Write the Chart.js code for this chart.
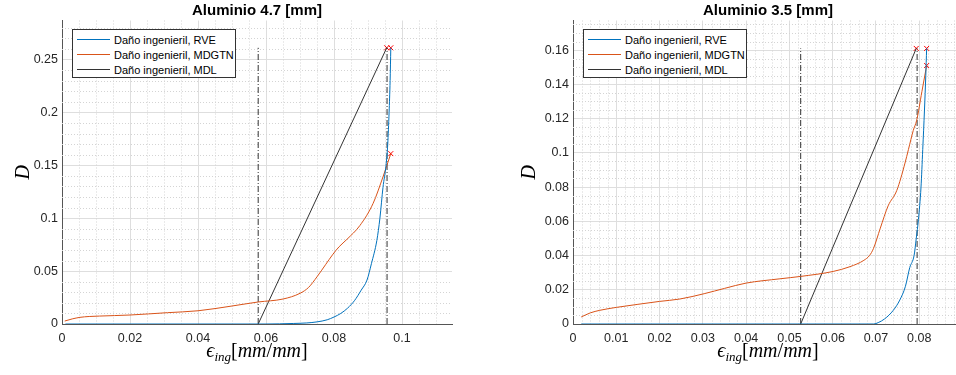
<!DOCTYPE html>
<html>
<head>
<meta charset="utf-8">
<script src="https://cdn.jsdelivr.net/npm/chart.js@4.4.1/dist/chart.umd.min.js"></script>
<style>
  html, body { margin: 0; padding: 0; background: #fff; overflow: hidden; }
  body { width: 956px; height: 375px; position: relative; font-family: "Liberation Sans", Arial, sans-serif; }
  .panel { position: absolute; top: 0; height: 375px; }
  .leyenda {
    position: absolute; top: 29px; width: 162px; height: 45px;
    border: 1px solid #333; background: #fff; padding-top: 2px; box-sizing: content-box;
    font-size: 11px; color: #000;
  }
  .leyenda div { height: 15px; display: flex; align-items: center; white-space: nowrap; }
  .leyenda span { display: inline-block; width: 33px; height: 1px; margin: 0 4px 0 4px; }
  .xlabel {
    position: absolute; top: 339px; width: 200px; text-align: center;
    font-family: "Liberation Serif", "DejaVu Serif", serif; font-size: 20px; line-height: 22px; color: #000;
  }
  .xlabel i { font-style: italic; }
  .xlabel sub { font-size: 13px; vertical-align: -4px; line-height: 0; }
</style>
</head>
<body>

<div class="panel" style="left:0;width:478px">
  <canvas id="c47" width="478" height="375"></canvas>
  <div class="leyenda" style="left:72px">
    <div><span style="background:#0072BD"></span>Daño ingenieril, RVE</div>
    <div><span style="background:#D95319"></span>Daño ingenieril, MDGTN</div>
    <div><span style="background:#333"></span>Daño ingenieril, MDL</div>
  </div>
  <div class="xlabel" style="left:157px"><i>ϵ</i><sub><i>ing</i></sub>[<i>mm</i>/<i>mm</i>]</div>
</div>

<div class="panel" style="left:478px;width:490px">
  <canvas id="c35" width="490" height="375"></canvas>
  <div class="leyenda" style="left:105px">
    <div><span style="background:#0072BD"></span>Daño ingenieril, RVE</div>
    <div><span style="background:#D95319"></span>Daño ingenieril, MDGTN</div>
    <div><span style="background:#333"></span>Daño ingenieril, MDL</div>
  </div>
  <div class="xlabel" style="left:190px"><i>ϵ</i><sub><i>ing</i></sub>[<i>mm</i>/<i>mm</i>]</div>
</div>

<script>
// ---------- Aluminio 4.7 [mm] ----------
const ticksX47 = [0, 0.02, 0.04, 0.06, 0.08, 0.1];
const ticksY47 = [0, 0.05, 0.1, 0.15, 0.2, 0.25];

const rveX47 = [0.001, 0.02, 0.04, 0.06, 0.068, 0.072, 0.075, 0.078, 0.080, 0.082, 0.084, 0.086, 0.088, 0.0897, 0.091, 0.0926, 0.0935, 0.0944, 0.0953, 0.0958, 0.0962, 0.0965, 0.0967];
const rveY47 = [0, 0, 0, 0, 0.0005, 0.001, 0.002, 0.004, 0.0066, 0.010, 0.015, 0.022, 0.032, 0.0415, 0.057, 0.079, 0.100, 0.129, 0.150, 0.170, 0.200, 0.230, 0.261];

const gtnX47 = [0.0008, 0.003, 0.0053, 0.008, 0.011, 0.02, 0.031, 0.04, 0.05, 0.0577, 0.065, 0.07, 0.0725, 0.075, 0.0775, 0.0797, 0.0815, 0.0838, 0.0876, 0.0915, 0.0944, 0.0967];
const gtnY47 = [0.0028, 0.0048, 0.0063, 0.0071, 0.0075, 0.0085, 0.0107, 0.0125, 0.017, 0.0208, 0.0236, 0.029, 0.0345, 0.0446, 0.056, 0.066, 0.073, 0.080, 0.093, 0.114, 0.139, 0.161];

const mdlX47 = [0.0577, 0.0955];
const mdlY47 = [0, 0.261];

const corteX47 = [0.0577, 0.0956];   // líneas verticales punto-raya
const corteTop47 = 0.261;

const finX47 = [0.0955, 0.0967, 0.0967];
const finY47 = [0.261, 0.261, 0.161];

// ---------- Aluminio 3.5 [mm] ----------
const ticksX35 = [0, 0.01, 0.02, 0.03, 0.04, 0.05, 0.06, 0.07, 0.08];
const ticksY35 = [0, 0.02, 0.04, 0.06, 0.08, 0.1, 0.12, 0.14, 0.16];

const rveX35 = [0.0019, 0.02, 0.04, 0.06, 0.0695, 0.0705, 0.072, 0.074, 0.0755, 0.0768, 0.0778, 0.0788, 0.0793, 0.0798, 0.0804, 0.0808, 0.0812, 0.0815, 0.0817];
const rveY35 = [0, 0, 0, 0, 0, 0.0008, 0.003, 0.008, 0.014, 0.022, 0.033, 0.040, 0.050, 0.061, 0.080, 0.102, 0.125, 0.145, 0.161];

const gtnX35 = [0.0019, 0.004, 0.0062, 0.01, 0.015, 0.02, 0.0247, 0.0303, 0.035, 0.040, 0.0478, 0.0526, 0.0601, 0.064, 0.0672, 0.0685, 0.0694, 0.0710, 0.0728, 0.0748, 0.0767, 0.0775, 0.0786, 0.0794, 0.0806, 0.0817];
const gtnY35 = [0.0041, 0.0065, 0.008, 0.0097, 0.0115, 0.0132, 0.0146, 0.0177, 0.0208, 0.0239, 0.0264, 0.0278, 0.0307, 0.0335, 0.0372, 0.040, 0.044, 0.056, 0.069, 0.078, 0.094, 0.102, 0.113, 0.119, 0.1357, 0.151];

const mdlX35 = [0.0526, 0.0793];
const mdlY35 = [0, 0.161];

const corteX35 = [0.0526, 0.0795];
const corteTop35 = 0.161;

const finX35 = [0.0793, 0.0817, 0.0817];
const finY35 = [0.161, 0.161, 0.151];

const AZUL = "#0072BD", NARANJA = "#D95319", NEGRO = "#333333";
const FUENTE = "'Liberation Sans', Arial, sans-serif";

function pares(xs, ys) {
  return xs.map((x, i) => ({ x, y: ys[i] }));
}
function fmt(v) {
  return String(+v.toFixed(4));
}

// grilla menor punteada (estilo MATLAB)
const grillaMenor = {
  id: "grillaMenor",
  beforeDatasetsDraw(chart, args, o) {
    const { ctx, chartArea: a, scales: { x, y } } = chart;
    ctx.save();
    ctx.strokeStyle = "#d4d4d4";
    ctx.lineWidth = 1;
    ctx.setLineDash([1, 2]);
    for (let i = 1; i * o.dx <= x.max; i++) {
      if (i % o.cadaX === 0) continue;
      const px = Math.round(x.getPixelForValue(i * o.dx)) + 0.5;
      ctx.beginPath(); ctx.moveTo(px, a.top); ctx.lineTo(px, a.bottom); ctx.stroke();
    }
    for (let i = 1; i * o.dy <= y.max; i++) {
      if (i % o.cadaY === 0) continue;
      const py = Math.round(y.getPixelForValue(i * o.dy)) + 0.5;
      ctx.beginPath(); ctx.moveTo(a.left, py); ctx.lineTo(a.right, py); ctx.stroke();
    }
    ctx.restore();
  }
};

function grafico(id, d) {
  const linea = (data, color, extra) => Object.assign({
    data, borderColor: color, backgroundColor: color, borderWidth: 1,
    pointRadius: 0, fill: false, tension: 0
  }, extra || {});

  const datasets = [
    linea(pares(d.rveX, d.rveY), AZUL, { cubicInterpolationMode: "monotone" }),
    linea(pares(d.gtnX, d.gtnY), NARANJA, { cubicInterpolationMode: "monotone" }),
    linea(pares(d.mdlX, d.mdlY), NEGRO),
  ];
  d.corteX.forEach(cx => {
    datasets.push(linea(pares([cx, cx], [0, d.corteTop]), NEGRO, { borderDash: [6, 2, 1, 2] }));
  });
  datasets.push({
    data: pares(d.finX, d.finY), showLine: false, pointStyle: "crossRot",
    pointRadius: 3.5, borderColor: "#ff0000", borderWidth: 1
  });

  const ejeComun = (ticks, fit) => ({
    type: "linear",
    grid: { color: "#dedede", drawTicks: false },
    border: { color: "#555" },
    afterBuildTicks: s => { s.ticks = ticks.map(v => ({ value: v })); },
    afterFit: fit,
    ticks: { autoSkip: false, maxRotation: 0, color: "#262626", font: { family: FUENTE, size: 12.5 }, callback: fmt }
  });

  const x = ejeComun(d.ticksX, s => { s.height = 51; });
  x.min = 0; x.max = d.xMax; x.ticks.padding = 7;
  const y = ejeComun(d.ticksY, s => { s.width = d.anchoY; });
  y.min = 0; y.max = d.yMax; y.ticks.padding = 4;
  y.title = { display: true, text: "D", color: "#000", padding: 0,
              font: { family: "'Liberation Serif', 'DejaVu Serif', serif", style: "italic", size: 20 } };

  return new Chart(document.getElementById(id), {
    type: "line",
    data: { datasets },
    plugins: [grillaMenor],
    options: {
      responsive: false,
      animation: false,
      layout: { padding: { left: d.padL, right: d.padR, top: 0, bottom: 0 } },
      scales: { x, y },
      plugins: {
        legend: { display: false },
        tooltip: { enabled: false },
        title: {
          display: true, text: d.titulo, fullSize: false, color: "#000",
          font: { family: FUENTE, size: 15, weight: "bold", lineHeight: 1.1 },
          padding: { top: 3, bottom: 1 }
        },
        grillaMenor: d.menor
      }
    }
  });
}

grafico("c47", {
  titulo: "Aluminio 4.7 [mm]",
  ticksX: ticksX47, ticksY: ticksY47, xMax: 0.1147, yMax: 0.2868,
  rveX: rveX47, rveY: rveY47, gtnX: gtnX47, gtnY: gtnY47, mdlX: mdlX47, mdlY: mdlY47,
  corteX: corteX47, corteTop: corteTop47, finX: finX47, finY: finY47,
  padL: 12, padR: 26, anchoY: 50,
  menor: { dx: 0.005, cadaX: 4, dy: 0.01, cadaY: 5 }
});

grafico("c35", {
  titulo: "Aluminio 3.5 [mm]",
  ticksX: ticksX35, ticksY: ticksY35, xMax: 0.0901, yMax: 0.1773,
  rveX: rveX35, rveY: rveY35, gtnX: gtnX35, gtnY: gtnY35, mdlX: mdlX35, mdlY: mdlY35,
  corteX: corteX35, corteTop: corteTop35, finX: finX35, finY: finY35,
  padL: 40, padR: 5, anchoY: 55,
  menor: { dx: 0.002, cadaX: 5, dy: 0.005, cadaY: 4 }
});
</script>
</body>
</html>
